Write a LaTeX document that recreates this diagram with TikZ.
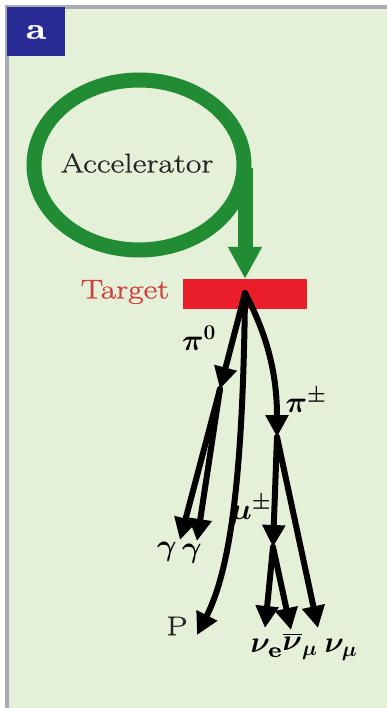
\RequirePackage{fix-cm}
\documentclass[tikz,border=0pt]{standalone}
\usepackage{amsmath}
\usepackage{fontspec}
\setmainfont{Latin Modern Roman}[FakeStretch=1.25, FakeBold=0.8]
\usetikzlibrary{arrows.meta}
\definecolor{bgpale}{RGB}{229,240,216}
\definecolor{ringgreen}{RGB}{33,140,52}
\definecolor{targetred}{RGB}{234,30,42}
\definecolor{labelred}{RGB}{208,62,62}
\definecolor{panelblue}{RGB}{42,44,150}
\definecolor{framegray}{RGB}{168,170,182}
\definecolor{inkgray}{RGB}{38,38,38}
\begin{document}
\begin{tikzpicture}[x=1pt, y=-1pt, font=\fontsize{27}{31}\selectfont,
    track/.style={line width=6pt, line cap=round, -{Triangle[width=22pt,length=22pt]}},
    plabel/.style={inner sep=0pt, font=\fontsize{30}{34}\selectfont\boldmath}]
    \useasboundingbox (0,0) rectangle (387,708);
    % fundo e moldura
    \fill[white] (0,0) rectangle (387,708);
    \fill[bgpale] (7,7) rectangle (387,708);
    \fill[framegray] (5,5) rectangle (387,9);
    \fill[framegray] (5,5) rectangle (9,708);
    % rótulo do painel
    \node[fill=panelblue, text=white, minimum width=58pt, minimum height=49pt, inner sep=0pt,
      font=\fontsize{30}{34}\selectfont\bfseries] (panel) at (36,32) {a};
    % anel do acelerador e feixe extraído
    \node[text=inkgray] (acc) at (137,163) {Accelerator};
    \draw[ringgreen, line width=15pt] (139,165) ellipse [x radius=105, y radius=85];
    \coordinate (exit) at (245,168);
    % alvo
    \node[fill=targetred, minimum width=124pt, minimum height=30pt, inner sep=0pt]
      (target) at (245,294) {};
    \node[text=labelred] (tlabel) at (125,292) {Target};
    \draw[ringgreen, line width=15pt, -{Triangle[width=32pt,length=32pt]}] (exit) -- (target.north);
    % ponto de colisão, decaimentos e pontos finais
    \coordinate (hit) at (245,293);
    \coordinate (pidec) at (220,389);
    \coordinate (g1) at (180,540);
    \coordinate (g2) at (197,541);
    \coordinate (pend) at (197,635);
    \coordinate (pipmdec) at (277,437);
    \coordinate (mudec) at (273,547);
    \coordinate (numu) at (318,628);
    \coordinate (nue) at (265,628);
    \coordinate (numubar) at (291,630);
    % trajetórias das partículas
    \draw[track] (hit) -- (pidec);
    \draw[track] (pidec) -- (g1);
    \draw[track] (pidec) -- (g2);
    \draw[track] (hit) .. controls (243,480) and (230,570) .. (pend);
    \draw[track] (hit) .. controls (270,340) and (277,380) .. (pipmdec);
    \draw[track] (pipmdec) -- (mudec);
    \draw[track] (pipmdec) -- (numu);
    \draw[track] (mudec) -- (nue);
    \draw[track] (mudec) -- (numubar);
    % nomes das partículas
    \node[plabel] (lpi0) at (199,338) {$\pi^0$};
    \node[plabel] (lpipm) at (306,400) {$\pi^\pm$};
    \node[plabel] (lmu) at (251,510) {$\mu^\pm$};
    \node[plabel] (lg1) at (167,552) {$\gamma$};
    \node[plabel] (lg2) at (192,554) {$\gamma$};
    \node[text=inkgray] (lp) at (177,626) {P};
    \node[plabel] (lnue) at (265,648) {$\nu_{\mathrm{e}}$};
    \node[plabel] (lnumubar) at (300,646) {$\overline{\nu}_\mu$};
    \node[plabel] (lnumu) at (341,650) {$\nu_\mu$};
\end{tikzpicture}
\end{document}
